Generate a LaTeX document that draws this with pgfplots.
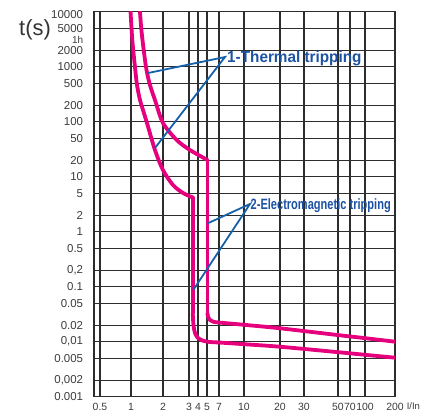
\documentclass[border=0pt]{standalone}
\usepackage{pgfplots}
\pgfplotsset{compat=1.18}
\usepackage{graphicx}
\usepackage{fontspec}
\setmainfont{Liberation Sans}

\definecolor{curve}{RGB}{230,0,126}
\definecolor{annot}{RGB}{22,96,170}
\definecolor{annottext}{RGB}{28,82,164}
\definecolor{gridc}{RGB}{45,45,45}
\definecolor{labc}{RGB}{60,60,60}

\begin{document}
\begin{tikzpicture}
\useasboundingbox (-94bp,-16.3bp) rectangle (344bp,396.7bp);
\begin{axis}[
  scale only axis, width=301bp, height=385bp,
  enlargelimits=false,
  % the printed I/In scale is not a true log scale: piecewise log between grid values
  x coord trafo/.code={%
    \pgfmathparse{ln(#1)}\let\lv\pgfmathresult
    \pgfmathparse{(\lv<0)?(37+44.72*(\lv)):((\lv<0.693147)?(37+46.166*(\lv)):((\lv<1.098612)?(69+64.124*(\lv-0.693147)):((\lv<1.386294)?(95+31.285*(\lv-1.098612)):((\lv<1.609438)?(104+40.333*(\lv-1.386294)):((\lv<1.945910)?(113+35.664*(\lv-1.609438)):((\lv<2.302585)?(125+70.092*(\lv-1.945910)):((\lv<2.995732)?(150+51.937*(\lv-2.302585)):((\lv<3.401197)?(186+59.191*(\lv-2.995732)):((\lv<3.912023)?(210+66.559*(\lv-3.401197)):((\lv<4.248495)?(244+35.664*(\lv-3.912023)):((\lv<4.605170)?(256+42.055*(\lv-4.248495)):(271+43.281*(\lv-4.605170)))))))))))))}%
  },
  xmin=0.4373, xmax=200,
  ymode=log, ymin=0.001, ymax=10000,
  xtick={0.5,1,2,3,4,5,7,10,20,30,50,70,100,200},
  xticklabels={0.5,1,2,3,4,5,7,10,20,30,50,70,100,200},
  ytick={0.001,0.002,0.005,0.01,0.02,0.05,0.1,0.2,0.5,1,2,5,10,20,50,100,200,500,1000,2000,5000},
  yticklabels={0.001,{0,002},0.005,{0,01},0.02,0.05,0.1,{0,2},0.5,1,2,5,10,20,50,100,200,500,1000,2000,5000},
  extra y ticks={10000},
  extra y tick labels={10000},
  extra y tick style={yticklabel style={yshift=-3.3bp}},
  grid=major,
  major grid style={gridc, line width=1.1bp},
  axis line style={gridc, line width=1.3bp},
  major tick length=0pt,
  xticklabel style={inner sep=0pt, anchor=north, yshift=-6bp, text=labc,
    font=\fontsize{10.5}{11}\selectfont},
  yticklabel style={inner sep=0pt, anchor=east, xshift=-10.7bp, text=labc,
    font=\fontsize{11.5}{12}\selectfont},
  trip/.style={curve, line width=3.8bp, line join=round, line cap=round, mark=none},
]
% 1: lower curve (thermal part, vertical drop, magnetic part)
\addplot[trip, smooth] coordinates {
  (0.99,10000) (1.029,3055) (1.09,990) (1.139,464) (1.215,248) (1.297,163)
  (1.414,94.6) (1.682,30.5) (2.0,13.2) (2.337,7.06) (2.732,5.06) (3.377,4.19)
};
\addplot[trip] coordinates {(3.377,4.19) (3.377,0.0333)};
\addplot[trip, smooth] coordinates {
  (3.377,0.0333) (3.464,0.0201) (3.634,0.0144) (4.0,0.01167) (4.528,0.01043)
  (5.44,0.00987) (7,0.00967) (10,0.00901) (20,0.0081) (50,0.00645)
  (100,0.00578) (200,0.00512)
};
% 2: upper curve
\addplot[trip, smooth] coordinates {
  (1.215,10000) (1.261,4100) (1.384,990) (1.509,464) (1.682,248) (2.0,94.6)
  (2.476,46.5) (3.098,30.5) (5.07,20.1)
};
\addplot[trip] coordinates {(5.07,20.1) (5.07,0.0333)};
\addplot[trip, smooth] coordinates {
  (5.07,0.0333) (5.142,0.0285) (5.44,0.0248) (5.966,0.0231) (7,0.0223)
  (10,0.0203) (20,0.01754) (50,0.0132) (100,0.0116) (200,0.0100)
};
\draw[annot, line width=1.8bp] (axis cs:1.445,767) -- (axis cs:7.625,1500) -- (axis cs:1.682,33.3);
\draw[annot, line width=1.8bp] (axis cs:5.1,1.42) -- (axis cs:11.22,3.19) -- (axis cs:3.442,0.0871);
\node[anchor=base west, inner sep=0pt, text=annottext, font=\fontsize{16}{16}\selectfont\bfseries]
  at (axis cs:7.85,1192) {\scalebox{0.96}[1]{1-Thermal tripping}};
\node[anchor=base west, inner sep=0pt, text=annottext, font=\fontsize{15}{15}\selectfont\bfseries]
  at (axis cs:11.33,2.533) {\scalebox{0.74}[1]{2-Electromagnetic tripping}};
\end{axis}
\node[inner sep=0pt, text=black!80, font=\fontsize{22}{22}\selectfont] at (-59bp,367.2bp) {t(s)};
\node[anchor=east, inner sep=0pt, text=labc, font=\fontsize{10}{10}\selectfont] at (-10.7bp,357bp) {1h};
\node[inner sep=0pt, text=labc, font=\fontsize{9.5}{10}\selectfont] at (319.4bp,-9.3bp) {I/In};
\end{tikzpicture}
\end{document}
